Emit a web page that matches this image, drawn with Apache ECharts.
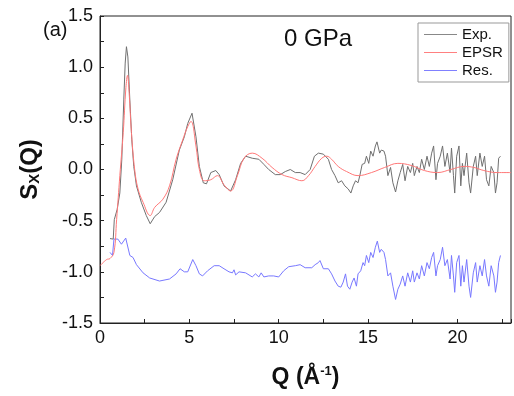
<!DOCTYPE html>
<html><head><meta charset="utf-8">
<script src="https://cdn.jsdelivr.net/npm/echarts@6/dist/echarts.min.js"></script>
<style>html,body{margin:0;padding:0;background:#fff}#c{width:514px;height:396px}</style>
</head><body><div id="c"></div>
<script>
const expQ = [0.56,0.74,0.80,0.96,1.11,1.22,1.33,1.41,1.48,1.56,1.67,1.78,1.89,2.04,2.31,2.59,2.81,3.06,3.33,3.70,4.07,4.44,4.72,4.91,5.15,5.37,5.56,5.78,5.96,6.20,6.48,6.67,6.94,7.31,7.59,7.87,8.15,8.52,8.89,9.17,9.44,9.81,10.09,10.37,10.65,10.93,11.20,11.48,11.76,12.00,12.22,12.50,12.78,12.96,13.15,13.33,13.52,13.70,13.89,14.04,14.17,14.30,14.44,14.54,14.67,14.81,14.91,15.04,15.15,15.28,15.41,15.50,15.65,15.74,15.89,15.98,16.11,16.26,16.39,16.54,16.67,16.80,16.94,17.07,17.22,17.37,17.50,17.59,17.74,17.87,18.00,18.15,18.30,18.43,18.56,18.67,18.80,18.89,19.04,19.17,19.30,19.44,19.59,19.67,19.78,19.85,19.96,20.09,20.19,20.28,20.37,20.52,20.65,20.74,20.89,21.02,21.11,21.26,21.39,21.52,21.63,21.76,21.89,22.04,22.13,22.22,22.31,22.41];
const expS = [-0.675,-0.68,-0.49,-0.39,-0.23,0.10,0.68,1.04,1.20,1.10,0.68,0.29,0.03,-0.16,-0.32,-0.45,-0.53,-0.46,-0.42,-0.32,-0.10,0.19,0.32,0.45,0.55,0.32,0.03,-0.13,-0.14,-0.03,-0.01,-0.05,-0.16,-0.21,-0.10,0.06,0.13,0.11,0.10,0.05,0.00,-0.05,-0.05,-0.02,0.00,-0.03,-0.03,-0.05,0.00,0.13,0.16,0.15,0.10,0.00,-0.06,-0.13,-0.11,-0.16,-0.19,-0.23,-0.16,-0.11,-0.13,-0.06,0.05,0.06,0.13,0.06,0.18,0.13,0.23,0.27,0.16,0.19,0.18,0.13,-0.06,0.02,-0.13,-0.22,-0.11,-0.03,0.05,-0.11,0.03,-0.03,0.06,-0.06,0.03,-0.03,0.10,0.00,0.13,0.03,0.16,0.23,-0.10,0.06,0.13,0.23,0.03,0.16,-0.03,0.21,-0.06,-0.23,0.13,0.23,-0.16,0.06,-0.06,0.16,-0.13,-0.23,0.03,0.13,-0.06,0.16,0.03,0.13,-0.10,-0.16,0.03,-0.03,-0.23,-0.13,0.11,0.13];

const epsrQ = [0,0.37,0.56,0.78,0.93,1.11,1.30,1.45,1.54,1.63,1.76,1.94,2.13,2.41,2.81,3.06,3.52,3.89,4.26,4.63,4.91,5.09,5.37,5.56,5.83,6.20,6.57,6.94,7.31,7.69,8.06,8.52,9.07,9.63,10.19,10.74,11.30,11.67,12.04,12.41,12.69,12.96,13.33,13.80,14.44,15.19,15.93,16.67,17.41,18.15,18.89,19.63,20.37,20.93,21.48,22.22,23];
const epsrS = [-0.94,-0.88,-0.87,-0.81,-0.49,-0.06,0.36,0.80,0.92,0.75,0.36,0.00,-0.19,-0.32,-0.45,-0.37,-0.29,-0.16,0.10,0.29,0.42,0.47,0.23,0.00,-0.11,-0.10,-0.06,-0.15,-0.21,-0.06,0.11,0.16,0.11,0.02,-0.05,-0.08,-0.11,-0.06,0.03,0.11,0.13,0.10,0.03,-0.02,-0.06,-0.03,0.02,0.06,0.04,-0.01,-0.03,0.00,0.03,0.02,-0.01,-0.03,-0.03];

const resQ = [0.56,0.70,0.78,1.00,1.20,1.44,1.67,1.85,2.04,2.41,2.78,3.33,3.89,4.26,4.48,4.72,4.91,5.19,5.37,5.56,5.74,6.02,6.39,6.67,6.94,7.22,7.41,7.50,7.59,7.78,8.15,8.52,8.70,8.89,9.02,9.17,9.44,9.72,10.00,10.28,10.56,10.93,11.20,11.48,11.85,12.04,12.22,12.31,12.50,12.78,12.96,13.15,13.33,13.48,13.61,13.74,13.85,13.98,14.11,14.22,14.35,14.44,14.59,14.72,14.81,14.91,15.04,15.15,15.28,15.41,15.52,15.65,15.74,15.89,15.98,16.11,16.26,16.39,16.54,16.67,16.80,16.94,17.07,17.22,17.37,17.50,17.59,17.74,17.87,18.00,18.15,18.30,18.43,18.56,18.67,18.80,18.89,19.04,19.17,19.30,19.44,19.59,19.67,19.78,19.85,19.96,20.09,20.19,20.28,20.37,20.52,20.65,20.74,20.89,21.02,21.11,21.26,21.39,21.52,21.63,21.76,21.89,22.04,22.13,22.22,22.31,22.41];
const resS = [-0.81,-0.84,-0.68,-0.68,-0.73,-0.67,-0.84,-0.86,-0.93,-1.01,-1.06,-1.09,-1.07,-1.02,-0.97,-1.00,-1.00,-0.88,-0.94,-1.02,-1.04,-0.99,-0.94,-0.94,-0.97,-1.00,-1.01,-0.98,-1.03,-1.00,-1.01,-1.05,-1.02,-1.05,-1.01,-1.05,-1.04,-1.04,-1.05,-0.99,-0.95,-0.94,-0.93,-0.96,-0.96,-0.93,-0.91,-0.89,-0.97,-0.97,-1.02,-1.09,-1.14,-1.15,-1.10,-1.02,-1.14,-1.17,-1.10,-1.06,-1.14,-1.02,-0.99,-0.91,-0.94,-0.84,-0.91,-0.81,-0.86,-0.76,-0.70,-0.81,-0.78,-0.81,-0.88,-1.04,-1.01,-1.14,-1.27,-1.17,-1.12,-1.04,-1.14,-1.01,-1.10,-0.99,-1.10,-1.01,-1.07,-0.94,-1.04,-0.91,-0.97,-0.86,-0.81,-1.04,-0.94,-0.88,-0.76,-0.94,-0.88,-1.07,-0.84,-1.04,-1.20,-0.91,-0.84,-1.14,-0.94,-1.10,-0.88,-1.14,-1.25,-1.01,-0.91,-1.10,-0.94,-1.04,-0.88,-1.04,-1.14,-0.94,-1.04,-1.20,-1.10,-0.91,-0.84];

const seriesNames = ['Exp.', 'EPSR', 'Res.'];
const xTickLabels = ['0', '5', '10', '15', '20'];
const yTickLabels = ['-1.5', '-1.0', '-0.5', '0.0', '0.5', '1.0', '1.5'];

function zip(a, b) { const n = Math.min(a.length, b.length); const r = []; for (let i = 0; i < n; i++) r.push([a[i], b[i]]); return r; }

const FONT = '"Liberation Sans", Arial, sans-serif';
const chart = echarts.init(document.getElementById('c'), null, { renderer: 'canvas' });
chart.setOption({
  animation: false,
  backgroundColor: '#fff',
  grid: { left: 100, right: 1, top: 16, bottom: 73, show: true, borderColor: '#222', borderWidth: 1, backgroundColor: 'transparent' },
  xAxis: {
    type: 'value', min: 0, max: 23, interval: 2.5,
    axisLine: { show: true, onZero: false, lineStyle: { color: '#222', width: 1 } },
    axisTick: { show: true, inside: true, length: 4, lineStyle: { color: '#222' } },
    splitLine: { show: false },
    axisLabel: {
      color: '#111', fontFamily: FONT, fontSize: 18, margin: 6,
      formatter: v => { const s = String(Math.round(v)); return (Math.abs(v % 5) < 1e-6 && xTickLabels.includes(s)) ? s : ''; }
    },
    name: '{b|Q (Å}{s|-1}{b|)}',
    nameLocation: 'middle', nameGap: 42,
    nameTextStyle: { rich: {
      b: { fontFamily: FONT, fontSize: 23, fontWeight: 'bold', color: '#111' },
      s: { fontFamily: FONT, fontSize: 13, fontWeight: 'bold', color: '#111', verticalAlign: 'top', padding: [0, 0, 12, 0] }
    } }
  },
  yAxis: {
    type: 'value', min: -1.5, max: 1.5, interval: 0.25,
    axisLine: { show: true, onZero: false, lineStyle: { color: '#222', width: 1 } },
    axisTick: { show: true, inside: true, length: 4, lineStyle: { color: '#222' } },
    splitLine: { show: false },
    axisLabel: {
      color: '#111', fontFamily: FONT, fontSize: 18, margin: 7,
      formatter: v => { const s = v.toFixed(1); return (Math.abs((v * 2) - Math.round(v * 2)) < 1e-6 && yTickLabels.includes(s)) ? s : ''; }
    },
    name: '{b|S}{s|X}{b|(Q)}',
    nameLocation: 'middle', nameRotate: 90, nameGap: 58,
    nameTextStyle: { rich: {
      b: { fontFamily: FONT, fontSize: 24, fontWeight: 'bold', color: '#111' },
      s: { fontFamily: FONT, fontSize: 15, fontWeight: 'bold', color: '#111', verticalAlign: 'bottom', padding: [8, 0, 0, 0] }
    } }
  },
  legend: {
    orient: 'vertical', left: 418, top: 23, padding: [4, 6, 4, 6],
    itemGap: 3, itemWidth: 33, itemHeight: 15,
    borderColor: '#999', borderWidth: 1, backgroundColor: '#fff',
    textStyle: { fontFamily: FONT, fontSize: 15, color: '#111', padding: [0, 0, 0, 0] },
    data: [
      { name: seriesNames[0], icon: 'path://M0,7 L33,7 L33,8 L0,8 Z', itemStyle: { color: '#888' } },
      { name: seriesNames[1], icon: 'path://M0,7 L33,7 L33,8 L0,8 Z', itemStyle: { color: '#ff8080' } },
      { name: seriesNames[2], icon: 'path://M0,7 L33,7 L33,8 L0,8 Z', itemStyle: { color: '#8080ff' } }
    ]
  },
  graphic: [
    { type: 'text', left: 43, top: 20, style: { text: '(a)', fontFamily: FONT, fontSize: 20, fill: '#111' } },
    { type: 'text', left: 284, top: 27, style: { text: '0 GPa', fontFamily: FONT, fontSize: 24, fill: '#111' } }
  ],
  series: [
    { name: seriesNames[0], type: 'line', data: zip(expQ, expS), showSymbol: false, symbol: 'none', lineStyle: { color: '#707070', width: 1 }, itemStyle: { color: '#888' }, z: 2 },
    { name: seriesNames[1], type: 'line', data: zip(epsrQ, epsrS), showSymbol: false, symbol: 'none', smooth: 0.4, lineStyle: { color: '#ff7878', width: 1 }, itemStyle: { color: '#ff8080' }, z: 3 },
    { name: seriesNames[2], type: 'line', data: zip(resQ, resS), showSymbol: false, symbol: 'none', lineStyle: { color: '#7878ff', width: 1 }, itemStyle: { color: '#8080ff' }, z: 2 }
  ]
});
</script>
</body></html>
